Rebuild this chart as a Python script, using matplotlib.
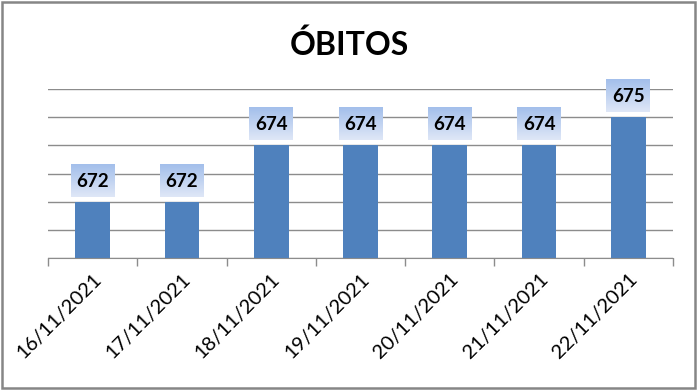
import numpy as np
import matplotlib
matplotlib.use("Agg")
import matplotlib.pyplot as plt
from matplotlib.patches import Rectangle
from matplotlib.colors import LinearSegmentedColormap

plt.rcParams['font.family'] = ['Lato', 'DejaVu Sans']

dates = ["16/11/2021", "17/11/2021", "18/11/2021", "19/11/2021",
         "20/11/2021", "21/11/2021", "22/11/2021"]
obitos = [672, 672, 674, 674, 674, 674, 675]

bar_color = "#4f81bd"
grid_color = "#8c8c8c"

fig = plt.figure(figsize=(6.98, 3.91), dpi=100)
ax = fig.add_axes([48 / 698, 133 / 391, 625 / 698, 169 / 391])

x = np.arange(len(dates))
ax.bar(x, obitos, width=0.39, color=bar_color, zorder=2)

# gradient boxes for the data labels
grad = LinearSegmentedColormap.from_list("lbl", ["#dfe7f7", "#a3bfeb"])
box = np.linspace(0, 1, 64).reshape(-1, 1)
for xi, v in zip(x, obitos):
    ax.imshow(box, cmap=grad, origin="lower", aspect="auto",
              extent=(xi - 0.245, xi + 0.245, v + 0.18, v + 1.32),
              clip_on=False, zorder=3)
    ax.text(xi, v + 0.73, str(v), ha="center", va="center",
            fontsize=13.5, fontweight="bold", zorder=4)

ax.set_xlim(-0.5, len(dates) - 0.5)
ax.set_ylim(670, 676)
ax.set_yticks(range(670, 677))
ax.set_yticklabels([])
ax.tick_params(axis="y", length=0)
ax.grid(axis="y", color=grid_color, linewidth=1, zorder=0)
ax.set_axisbelow(True)

ax.set_xticks(x)
ax.set_xticklabels(dates, rotation=45, ha="right", rotation_mode="anchor",
                   fontsize=14.5)
ax.tick_params(axis="x", which="major", length=0, pad=9)
ax.set_xticks(np.arange(-0.5, len(dates)), minor=True)
ax.tick_params(axis="x", which="minor", length=6, color=grid_color, width=1)

for s in ["top", "right", "left"]:
    ax.spines[s].set_visible(False)
ax.spines["bottom"].set_color(grid_color)

fig.text(0.5, 1 - 45 / 391, "ÓBITOS", ha="center", va="center",
         fontsize=23, fontweight="bold")

fig.patches.append(Rectangle((2 / 698, 3 / 391), 693 / 698, 386 / 391,
                             transform=fig.transFigure, fill=False,
                             edgecolor="#868686", linewidth=1.8))

fig.savefig("out.png", dpi=100)
